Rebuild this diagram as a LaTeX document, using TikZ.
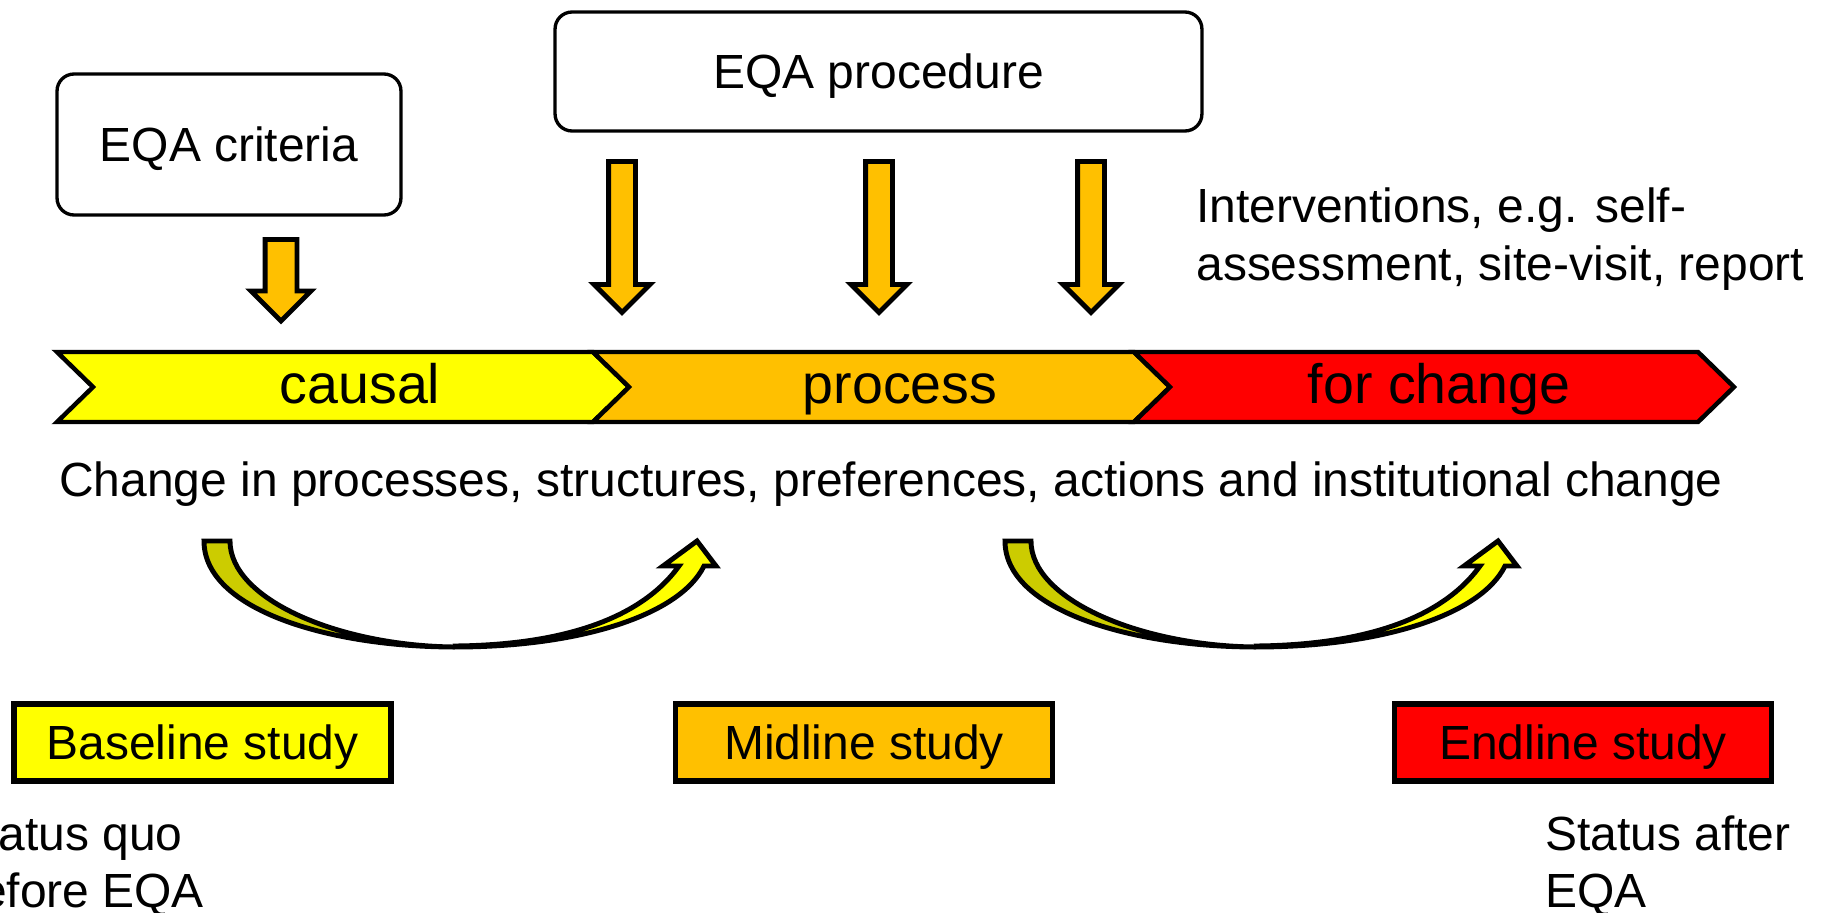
\documentclass[tikz,border=0pt]{standalone}
\usepackage{fontspec}
\setmainfont{Liberation Sans}
\usepackage{xcolor}
\usepackage{tikz}
\usetikzlibrary{shapes.arrows}
\usetikzlibrary{positioning}
\definecolor{eqayellow}{RGB}{255,255,0}
\definecolor{eqaorange}{RGB}{255,192,0}
\definecolor{eqared}{RGB}{255,0,0}
\definecolor{eqaolive}{RGB}{204,204,0}
\tikzset{txt/.style={font=\fontsize{27.3pt}{32.9pt}\selectfont, inner sep=0pt}}
\tikzset{bandtxt/.style={font=\fontsize{31.6pt}{36pt}\selectfont, inner sep=0pt, anchor=base}}
\tikzset{eqabox/.style={txt, draw, rounded corners=0.34cm, line width=1.9pt, text height=19.5pt, text depth=0pt}}
\tikzset{studybox/.style={txt, draw, line width=3.2pt, minimum width=7.54cm, minimum height=1.54cm, text height=19.5pt, text depth=0pt}}
\tikzset{band/.style={draw, line width=2.55pt}}
\tikzset{downarrow/.style={single arrow, draw, fill=eqaorange, line width=2.8pt, rotate=-90, anchor=tail, outer sep=0pt, inner xsep=0pt, minimum width=0pt, single arrow head indent=0pt}}
\tikzset{bendarrow/.pic={
  \draw[line width=2.8pt, fill=eqaolive] (0,0) .. controls (0,69) and (126,106) .. (251,106) .. controls (136,105) and (26,59) .. (26,0) -- cycle;
  \draw[line width=2.8pt, fill=eqayellow] (251,106) .. controls (376,106) and (476,74) .. (500,25) -- (512,25) -- (493,0) -- (459,25) -- (475,25) .. controls (436,79) and (356,104) .. (251,105) -- cycle;
}}

\begin{document}
\begin{tikzpicture}[x=0.02cm, y=-0.02cm]
\useasboundingbox (0,0) rectangle (1823,913);

\node[eqabox, minimum width=6.88cm, minimum height=2.82cm] (crit) at (229,144.5) {EQA criteria};
\node[eqabox, minimum width=12.94cm, minimum height=2.38cm] (proc) at (878.5,71.5) {EQA procedure};
\node[txt, anchor=base west, align=left] (intv) at (1196,280) {Interventions, e.g. self-\\assessment, site-visit, report};

\node[downarrow, inner ysep=0.27cm, single arrow head extend=0.28cm, minimum height=1.63cm] (a0) at (281,239.5) {};
\node[downarrow, inner ysep=0.22cm, single arrow head extend=0.29cm, minimum height=3.02cm] (a1) at (622,161.5) {};
\node[downarrow, inner ysep=0.22cm, single arrow head extend=0.29cm, minimum height=3.02cm] (a2) at (879,161.5) {};
\node[downarrow, inner ysep=0.22cm, single arrow head extend=0.29cm, minimum height=3.02cm] (a3) at (1091,161.5) {};

\draw[band, fill=eqayellow] (57,352) -- (593,352) -- (629,387) -- (593,422) -- (57,422) -- (93,387) -- cycle;
\draw[band, fill=eqaorange] (593,352) -- (1134,352) -- (1170,387) -- (1134,422) -- (593,422) -- (629,387) -- cycle;
\draw[band, fill=eqared] (1134,352) -- (1698,352) -- (1734,387) -- (1698,422) -- (1134,422) -- (1170,387) -- cycle;
\node[bandtxt] (cau) at (360,403) {causal};
\node[bandtxt] (pro) at (900,403) {process};
\node[bandtxt] (chg) at (1439,403) {for change};

\node[txt, anchor=base] (chn) at (891,496) {Change in processes, structures, preferences, actions and institutional change};

\pic at (204,541) {bendarrow};
\pic at (1005,541) {bendarrow};

\node[studybox, fill=eqayellow] (base) at (202.5,742.5) {Baseline study};
\node[studybox, fill=eqaorange] (mid) at (864,742.5) {Midline study};
\node[studybox, fill=eqared] (endl) at (1583,742.5) {Endline study};

\node[txt, anchor=base west, align=left, font=\fontsize{27.3pt}{32pt}\selectfont] (sq) at (-47,907) {Status quo\\before EQA};
\node[txt, anchor=base west, align=left, font=\fontsize{27.3pt}{32pt}\selectfont] (sa) at (1545,907) {Status after\\EQA};
\end{tikzpicture}
\end{document}
